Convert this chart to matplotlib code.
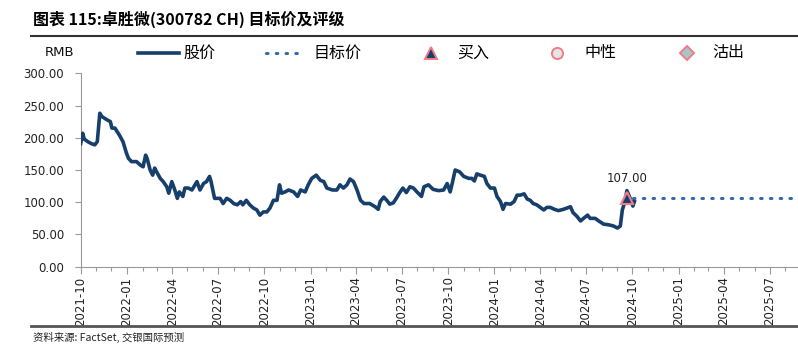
import matplotlib
matplotlib.use("Agg")
import matplotlib.pyplot as plt
import matplotlib.dates as mdates
from matplotlib.lines import Line2D
import pandas as pd

plt.rcParams['font.family'] = ['Noto Sans CJK SC', 'DejaVu Sans']

title = "图表 115:卓胜微(300782 CH) 目标价及评级"
source = "资料来源: FactSet, 交银国际预测"
unit = "RMB"
legend_labels = ["股价", "目标价", "买入", "中性", "沽出"]

price_dates = [
    "2021-10-01", "2021-10-05", "2021-10-08", "2021-10-15", "2021-10-22", "2021-10-29",
    "2021-11-03", "2021-11-08", "2021-11-12", "2021-11-22", "2021-11-29", "2021-12-02",
    "2021-12-08", "2021-12-13", "2021-12-17", "2021-12-24", "2021-12-31", "2022-01-04",
    "2022-01-10", "2022-01-20", "2022-01-27", "2022-02-02", "2022-02-07", "2022-02-10",
    "2022-02-16", "2022-02-21", "2022-02-25", "2022-03-01", "2022-03-08", "2022-03-14",
    "2022-03-21", "2022-03-25", "2022-03-31", "2022-04-06", "2022-04-11", "2022-04-15",
    "2022-04-22", "2022-04-26", "2022-05-03", "2022-05-10", "2022-05-16", "2022-05-20",
    "2022-05-26", "2022-06-02", "2022-06-08", "2022-06-14", "2022-06-17", "2022-06-24",
    "2022-07-05", "2022-07-11", "2022-07-18", "2022-07-25", "2022-08-01", "2022-08-08",
    "2022-08-15", "2022-08-19", "2022-08-26", "2022-09-02", "2022-09-09", "2022-09-16",
    "2022-09-22", "2022-09-29", "2022-10-06", "2022-10-12", "2022-10-19", "2022-10-26",
    "2022-10-31", "2022-11-04", "2022-11-11", "2022-11-18", "2022-11-28", "2022-12-06",
    "2022-12-12", "2022-12-21", "2022-12-27", "2023-01-03", "2023-01-12", "2023-01-20",
    "2023-01-27", "2023-02-02", "2023-02-13", "2023-02-22", "2023-02-28", "2023-03-07",
    "2023-03-14", "2023-03-20", "2023-03-27", "2023-04-03", "2023-04-10", "2023-04-17",
    "2023-04-28", "2023-05-09", "2023-05-15", "2023-05-19", "2023-05-26", "2023-06-01",
    "2023-06-07", "2023-06-14", "2023-06-20", "2023-06-26", "2023-07-03", "2023-07-10",
    "2023-07-17", "2023-07-24", "2023-07-31", "2023-08-09", "2023-08-14", "2023-08-23",
    "2023-09-01", "2023-09-12", "2023-09-22", "2023-09-29", "2023-10-05", "2023-10-09",
    "2023-10-15", "2023-10-24", "2023-11-01", "2023-11-11", "2023-11-17", "2023-11-22",
    "2023-11-27", "2023-12-04", "2023-12-12", "2023-12-17", "2023-12-24", "2024-01-01",
    "2024-01-06", "2024-01-13", "2024-01-18", "2024-01-23", "2024-02-02", "2024-02-09",
    "2024-02-15", "2024-02-21", "2024-02-29", "2024-03-06", "2024-03-12", "2024-03-18",
    "2024-03-25", "2024-04-01", "2024-04-08", "2024-04-14", "2024-04-21", "2024-04-29",
    "2024-05-07", "2024-05-17", "2024-05-24", "2024-05-31", "2024-06-05", "2024-06-13",
    "2024-06-20", "2024-06-26", "2024-07-04", "2024-07-09", "2024-07-19", "2024-07-26",
    "2024-08-05", "2024-08-15", "2024-08-25", "2024-09-01", "2024-09-07", "2024-09-11",
    "2024-09-17", "2024-09-20", "2024-09-24", "2024-09-28", "2024-10-02", "2024-10-05",
]
price_values = [
    191, 207, 198, 194, 191, 189,
    194, 238, 233, 228, 225, 215,
    215, 209, 204, 194, 176, 168,
    163, 163, 158, 155, 173, 168,
    150, 142, 153, 147, 137, 132,
    124, 114, 132, 119, 106, 116,
    109, 122, 122, 119, 127, 132,
    119, 129, 132, 140, 132, 106,
    106, 98, 106, 103, 98, 96,
    101, 96, 103, 96, 91, 88,
    80, 85, 85, 91, 103, 103,
    127, 114, 116, 119, 116, 109,
    119, 116, 127, 137, 142, 134,
    132, 122, 119, 119, 127, 122,
    127, 136, 132, 119, 103, 98,
    98, 93, 89, 101, 108, 103,
    97, 99, 106, 114, 122, 115,
    124, 122, 116, 109, 124, 127,
    120, 118, 119, 129, 116, 129,
    150, 147, 140, 137, 137, 133,
    144, 142, 140, 129, 122, 122,
    109, 101, 89, 98, 97, 101,
    111, 111, 113, 105, 103, 98,
    96, 92, 88, 92, 92, 89,
    87, 89, 91, 93, 84, 78,
    71, 75, 80, 75, 75, 71,
    66, 65, 63, 60, 63, 88,
    103, 118, 111, 103, 94, 101,
]

target_dates = ["2024-10-02", "2025-08-26"]
target_values = [107, 107]

rating_dates = ["2024-09-20"]
rating_values = [107]
rating_label = "107.00"

y_ticks = [0, 50, 100, 150, 200, 250, 300]
x_start, x_end = "2021-10-01", "2025-08-26"

navy = "#173F6B"
dot_blue = "#2E6BB0"
pink = "#F07C84"

fig = plt.figure(figsize=(7.98, 3.52), dpi=100)
ax = fig.add_axes([0.1011, 0.2423, 0.8989, 0.5495])

pd_dates = pd.to_datetime(price_dates)
ax.plot(pd_dates, price_values, color=navy, lw=2.6, solid_joinstyle="round", zorder=3)
ax.plot(pd.to_datetime(target_dates), target_values, color=dot_blue, lw=2.2,
        linestyle=(0, (0.5, 2.7)), dash_capstyle="round", zorder=2)
ax.plot(pd.to_datetime(rating_dates), rating_values, marker="^", ms=9, mfc=navy,
        mec=pink, mew=1.5, linestyle="none", zorder=4)
ax.annotate(rating_label, (pd.to_datetime(rating_dates[0]), rating_values[0]),
            xytext=(0, 9), textcoords="offset points", ha="center", va="bottom",
            fontsize=8.5, color="#222222", family=["DejaVu Sans"])

ax.set_ylim(0, 300)
ax.set_yticks(y_ticks)
ax.set_yticklabels([f"{v:.2f}" for v in y_ticks], family=["DejaVu Sans"])
ax.set_xlim(pd.Timestamp(x_start), pd.Timestamp(x_end))
ax.xaxis.set_major_locator(mdates.MonthLocator(bymonth=[1, 4, 7, 10]))
ax.xaxis.set_minor_locator(mdates.MonthLocator())
ax.xaxis.set_major_formatter(mdates.DateFormatter("%Y-%m"))
for lab in ax.get_xticklabels():
    lab.set_rotation(90)
    lab.set_family(["DejaVu Sans"])
ax.tick_params(axis="x", which="major", length=5, width=0.8, color="#999999",
               labelsize=8.5, labelcolor="#222222", pad=2)
ax.tick_params(axis="x", which="minor", length=3, width=0.8, color="#999999")
ax.tick_params(axis="y", length=4, width=0.8, color="#999999", labelsize=8.5,
               labelcolor="#222222", pad=8)
for s in ["top", "right"]:
    ax.spines[s].set_visible(False)
for s in ["left", "bottom"]:
    ax.spines[s].set_color("#999999")
    ax.spines[s].set_linewidth(0.8)

# title and rules
fig.text(33 / 798, 1 - 19 / 352, title, fontsize=11.5, fontweight="bold",
         ha="left", va="center", color="#000000")
fig.add_artist(Line2D([31 / 798, 1], [1 - 36 / 352] * 2, color="#333333", lw=1.5))
fig.add_artist(Line2D([31 / 798, 1], [1 - 326 / 352] * 2, color="#555555", lw=2.0))
fig.text(33 / 798, 1 - 337 / 352, source, fontsize=7.5, style="italic",
         ha="left", va="center", color="#222222")

# legend row
ly = 1 - 53 / 352
fig.text(45 / 798, ly, unit, fontsize=9.5, ha="left", va="center", color="#111111",
         family=["DejaVu Sans"])
fig.add_artist(Line2D([138 / 798, 179 / 798], [ly, ly], color=navy, lw=2.6))
fig.text(183 / 798, ly, legend_labels[0], fontsize=11.5, ha="left", va="center")
fig.add_artist(Line2D([266 / 798, 304 / 798], [ly, ly], color=dot_blue, lw=2.2,
                      linestyle=(0, (0.5, 2.7)), dash_capstyle="round"))
fig.text(313 / 798, ly, legend_labels[1], fontsize=11.5, ha="left", va="center")
fig.add_artist(Line2D([431 / 798], [ly], marker="^", ms=8, mfc=navy, mec=pink, mew=1.4))
fig.text(457 / 798, ly, legend_labels[2], fontsize=11.5, ha="left", va="center")
fig.add_artist(Line2D([557 / 798], [ly], marker="o", ms=8, mfc="#E4E4E4", mec=pink, mew=1.4))
fig.text(584 / 798, ly, legend_labels[3], fontsize=11.5, ha="left", va="center")
fig.add_artist(Line2D([687 / 798], [ly], marker="D", ms=7, mfc="#A8C4CC", mec=pink, mew=1.4))
fig.text(712 / 798, ly, legend_labels[4], fontsize=11.5, ha="left", va="center")

fig.savefig("out.png", dpi=100)
